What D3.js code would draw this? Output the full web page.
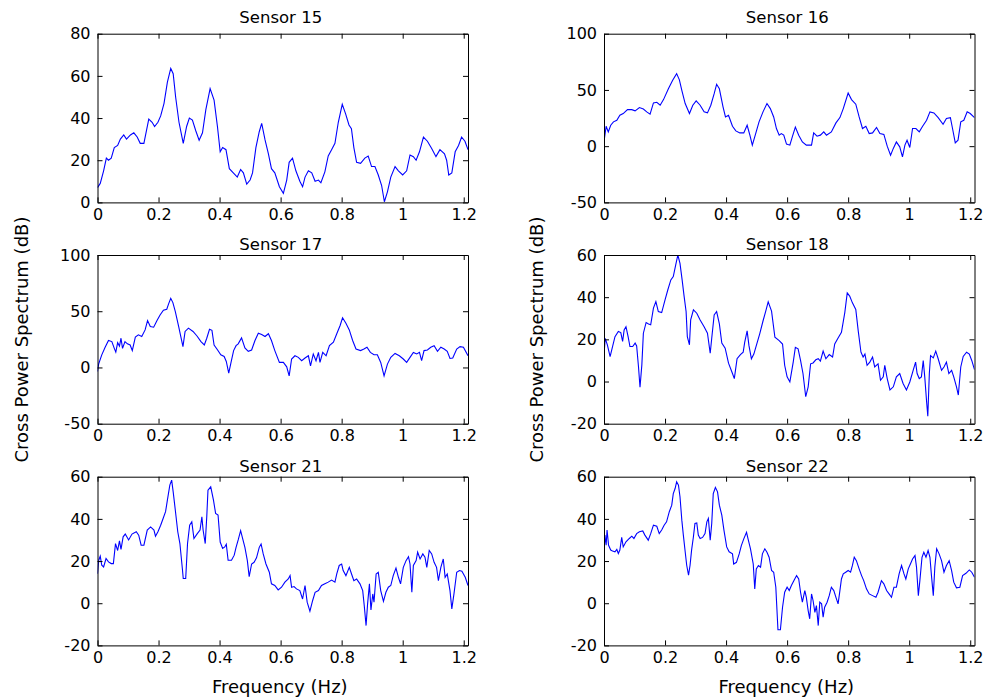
<!DOCTYPE html>
<html>
<head>
<meta charset="utf-8">
<script src="https://cdn.jsdelivr.net/npm/d3@7"></script>
<style>
  body { margin: 0; background: #fff; }
  text { font-family: "DejaVu Sans", sans-serif; fill: #000; }
</style>
</head>
<body>
<div id="vis-container"></div>
<script>
//data: [frequency (Hz), cross power (dB)]
const sensor15 = [[0,7],[0.009,9],[0.02,15],[0.029,21],[0.036,20],[0.045,21],[0.055,26],[0.066,27],[0.075,30],[0.086,32],[0.095,30],[0.108,32],[0.119,33],[0.13,31],[0.14,28],[0.152,28],[0.168,39.5],[0.179,38],[0.187,36],[0.198,38],[0.207,41],[0.218,47],[0.229,57],[0.24,63.5],[0.248,61],[0.256,50],[0.267,38],[0.281,28],[0.292,36],[0.301,40],[0.311,39],[0.322,34],[0.333,29.5],[0.344,33],[0.355,44],[0.369,54],[0.382,48.5],[0.393,36],[0.402,24],[0.41,26],[0.421,25],[0.432,16],[0.445,14],[0.458,12],[0.469,15.6],[0.478,14],[0.489,8.7],[0.5,10.6],[0.508,14],[0.519,26],[0.53,33.5],[0.538,37.5],[0.549,29.6],[0.56,23],[0.57,16],[0.581,14],[0.596,7.4],[0.609,4.3],[0.62,10.6],[0.628,19],[0.639,21],[0.65,15],[0.663,10],[0.672,7.4],[0.68,12],[0.691,15],[0.702,14],[0.713,10],[0.724,10.6],[0.732,9.3],[0.745,14.5],[0.756,22],[0.767,25],[0.778,28],[0.789,38],[0.802,46.5],[0.813,42],[0.824,36.7],[0.832,35],[0.84,26],[0.849,19],[0.862,18.5],[0.876,21],[0.887,22],[0.898,17],[0.909,17],[0.92,13],[0.931,8],[0.94,0.3],[0.95,5],[0.961,12],[0.975,17],[0.986,15],[1.0,13],[1.013,15],[1.024,22.5],[1.035,21.7],[1.044,20],[1.055,24],[1.068,31],[1.081,29],[1.095,25.6],[1.109,21.7],[1.122,25],[1.137,23],[1.144,20],[1.151,13],[1.161,14],[1.172,24],[1.183,27],[1.193,31],[1.204,29],[1.214,25]];

const sensor16 = [[0,4],[0.007,17.7],[0.014,12.7],[0.022,18.6],[0.031,21.6],[0.042,23],[0.052,27.5],[0.063,29],[0.077,32.5],[0.091,32.5],[0.102,31.4],[0.116,34.3],[0.129,33],[0.14,30.5],[0.151,28.4],[0.162,38.5],[0.173,39],[0.184,36.4],[0.195,41.4],[0.211,51],[0.225,58.6],[0.238,64.5],[0.247,59],[0.255,49.7],[0.266,37.9],[0.28,29],[0.291,36.4],[0.302,40.2],[0.315,36.4],[0.328,30.5],[0.339,29.6],[0.35,36.4],[0.361,46.7],[0.369,55],[0.378,51],[0.39,35],[0.398,26],[0.408,27.5],[0.421,17.7],[0.432,13.6],[0.445,11.8],[0.458,11.8],[0.469,18.6],[0.478,9.8],[0.486,0.9],[0.497,11.2],[0.508,21.6],[0.521,30.5],[0.534,37.9],[0.545,33.4],[0.556,26],[0.565,15.7],[0.574,9.8],[0.581,11.2],[0.589,9.8],[0.598,1.8],[0.609,0.9],[0.617,8.3],[0.627,17],[0.638,9.8],[0.65,3.8],[0.663,0.9],[0.68,0.9],[0.687,11.8],[0.698,8.9],[0.709,9.8],[0.72,12.7],[0.729,9.8],[0.745,12.7],[0.76,20.7],[0.773,25.4],[0.784,33.4],[0.8,47.3],[0.811,41.4],[0.825,37.3],[0.836,26],[0.847,15.7],[0.858,17.7],[0.869,11.2],[0.88,11.8],[0.893,16.6],[0.904,11.2],[0.917,10.4],[0.928,0],[0.939,-8],[0.948,-2],[0.958,3.8],[0.969,-0.6],[0.978,-9.5],[0.986,0.9],[0.993,5.3],[1.002,-1.2],[1.011,15.7],[1.022,15.7],[1.033,12.7],[1.044,17.7],[1.057,23],[1.068,30.5],[1.081,29.6],[1.095,25.4],[1.111,19.5],[1.122,24.6],[1.135,25.4],[1.142,15.7],[1.151,3],[1.16,5.3],[1.169,21.6],[1.179,23],[1.19,30.5],[1.2,29],[1.214,25.4]];

const sensor17 = [[0,-3.6],[0.004,3.3],[0.014,11.2],[0.025,18],[0.036,24],[0.047,23],[0.055,17],[0.06,13.6],[0.066,22],[0.072,19],[0.077,26],[0.082,17],[0.09,23],[0.098,21],[0.107,20],[0.114,15],[0.124,27],[0.134,29],[0.145,27.5],[0.156,33.4],[0.164,41.7],[0.173,36.4],[0.184,35.8],[0.195,41.7],[0.205,46.7],[0.216,51],[0.227,51.8],[0.233,56.5],[0.24,61.5],[0.247,57.7],[0.255,49.7],[0.266,36.4],[0.273,27.5],[0.28,18.6],[0.287,32],[0.298,35],[0.313,32],[0.326,28],[0.339,23],[0.35,20],[0.358,26],[0.367,34],[0.375,33],[0.382,20],[0.393,15.7],[0.404,11.2],[0.415,9.8],[0.422,5.3],[0.43,-5],[0.437,3.8],[0.446,15],[0.454,19.4],[0.461,21],[0.472,26.3],[0.483,17.3],[0.494,14.3],[0.505,15.5],[0.516,24],[0.527,30.4],[0.538,29.3],[0.549,27.5],[0.56,30],[0.57,24],[0.581,15],[0.596,4.5],[0.609,4.5],[0.62,0.6],[0.628,-7.5],[0.636,7.5],[0.647,10.4],[0.658,9],[0.669,6],[0.68,8.4],[0.691,10.4],[0.698,1.5],[0.707,12],[0.716,6],[0.724,13.4],[0.729,4.5],[0.738,13.4],[0.749,10.4],[0.76,19.4],[0.773,22.4],[0.784,30],[0.795,37.3],[0.803,44.2],[0.814,39.4],[0.825,33.4],[0.836,24],[0.847,16.4],[0.862,15],[0.873,16.4],[0.883,18],[0.894,13.4],[0.906,11.3],[0.917,11.3],[0.928,4.5],[0.939,-7.5],[0.95,3],[0.961,9],[0.975,12.5],[0.989,10.4],[1.002,7.5],[1.013,4.5],[1.024,9],[1.035,13.4],[1.046,12],[1.055,13.4],[1.062,6],[1.07,15],[1.081,15.5],[1.092,18],[1.103,19.4],[1.114,14.3],[1.125,18],[1.136,16.4],[1.146,14.3],[1.155,8],[1.164,8.4],[1.177,16.4],[1.188,18.5],[1.199,18],[1.214,10.4]];

const sensor18 = [[0,12.6],[0.004,20.5],[0.011,17.4],[0.02,11.8],[0.028,16.6],[0.036,21.3],[0.047,23.7],[0.055,23.2],[0.061,19],[0.066,24.5],[0.072,26],[0.079,21.3],[0.085,16.6],[0.094,16.6],[0.102,18.2],[0.107,16.9],[0.113,7],[0.118,-2.7],[0.124,7.9],[0.129,22.9],[0.138,28],[0.146,27.3],[0.153,26.9],[0.162,34.8],[0.17,37.9],[0.178,33.2],[0.189,32.7],[0.2,38.7],[0.209,43.4],[0.219,48.2],[0.227,49.8],[0.235,55.3],[0.242,60],[0.249,56],[0.256,48.2],[0.262,41],[0.269,33.2],[0.273,21.3],[0.28,17.4],[0.284,29.2],[0.293,34],[0.304,32.4],[0.315,29.2],[0.328,26],[0.339,22.9],[0.348,13.4],[0.353,20.5],[0.361,31.6],[0.369,33.2],[0.378,27.3],[0.386,18.2],[0.397,15.8],[0.408,8.7],[0.421,3.8],[0.427,1.4],[0.436,10.8],[0.447,12.8],[0.456,13.9],[0.461,18.6],[0.469,24],[0.475,17],[0.483,10.8],[0.491,13],[0.499,17],[0.51,22.5],[0.521,28.7],[0.53,33.4],[0.538,37.8],[0.549,33.4],[0.56,21],[0.574,19.4],[0.585,17.8],[0.592,7.7],[0.6,2.2],[0.609,-0.2],[0.62,9.2],[0.627,16.2],[0.636,15.5],[0.644,10],[0.652,3.8],[0.661,-7.2],[0.669,-2.5],[0.677,8.4],[0.685,8.8],[0.694,10.3],[0.702,10.8],[0.709,9.7],[0.718,14.4],[0.727,10.8],[0.738,12.8],[0.749,11.6],[0.756,17.8],[0.767,20.6],[0.778,23.3],[0.789,32.7],[0.797,42],[0.805,40.5],[0.814,37.3],[0.825,34.2],[0.833,24],[0.842,13.9],[0.849,11.6],[0.855,13],[0.862,7.7],[0.871,9.2],[0.88,11.6],[0.887,6.9],[0.898,8.4],[0.906,0.6],[0.915,2.2],[0.92,7.7],[0.928,1.4],[0.937,-4],[0.948,-2.5],[0.958,2.2],[0.969,3.8],[0.98,-0.9],[0.991,-4],[1.002,-0.2],[1.013,5.3],[1.021,9.2],[1.026,3.8],[1.033,1.4],[1.04,2.2],[1.046,10],[1.051,2.2],[1.057,-9.5],[1.061,-16.5],[1.066,3.8],[1.07,12.3],[1.079,11.2],[1.087,14.4],[1.095,10.8],[1.106,5.3],[1.114,6.9],[1.122,9.2],[1.13,3.8],[1.139,5.3],[1.146,2.2],[1.155,-2.5],[1.161,-6.4],[1.169,6.9],[1.177,11.9],[1.188,13.9],[1.197,13],[1.205,10],[1.214,5.6]];

const sensor21 = [[0,14],[0.004,20.4],[0.009,22.3],[0.014,18],[0.02,17.2],[0.028,21.2],[0.036,19.6],[0.045,18.8],[0.052,18.8],[0.059,28.3],[0.066,25],[0.072,29.6],[0.077,25.5],[0.084,31.5],[0.091,32.8],[0.102,30],[0.113,32.8],[0.127,33.9],[0.135,32.3],[0.143,27.5],[0.152,27.5],[0.163,34.7],[0.174,36.2],[0.185,34.7],[0.19,31.8],[0.198,33.9],[0.207,37],[0.215,40.2],[0.223,43.4],[0.229,48.9],[0.237,56],[0.243,58.4],[0.248,52.8],[0.255,44.1],[0.263,33.9],[0.27,28.3],[0.278,16.5],[0.281,11.7],[0.289,11.7],[0.295,28.3],[0.302,37],[0.309,38.6],[0.316,30.7],[0.327,33],[0.336,34.7],[0.342,41],[0.346,34.7],[0.353,28.3],[0.358,41],[0.362,53.6],[0.371,55.2],[0.38,48.9],[0.387,42.6],[0.395,41.8],[0.402,29],[0.41,26],[0.417,26.7],[0.422,28],[0.428,20.4],[0.439,20.4],[0.448,22.8],[0.454,26.5],[0.461,30],[0.469,34.4],[0.475,31],[0.483,26.5],[0.491,20.2],[0.497,12.6],[0.505,18.6],[0.513,19.4],[0.521,21.5],[0.53,26.5],[0.536,28.1],[0.543,23.4],[0.552,18.6],[0.563,14.7],[0.57,9.2],[0.581,8.4],[0.592,6.3],[0.603,7.6],[0.614,10],[0.625,11.5],[0.631,13.1],[0.636,7.6],[0.644,7.9],[0.652,6.8],[0.663,6],[0.672,2],[0.68,8.4],[0.687,0.5],[0.696,-3.8],[0.705,1.3],[0.713,5.2],[0.724,6],[0.734,8.4],[0.745,9.2],[0.756,10],[0.767,11],[0.778,10],[0.784,13.9],[0.792,17.9],[0.8,18.6],[0.805,15.5],[0.814,13.1],[0.825,17],[0.833,13.6],[0.84,10.7],[0.849,11.5],[0.86,9.2],[0.869,6],[0.874,-1.1],[0.88,-10.6],[0.885,-0.3],[0.891,9.2],[0.896,-3.2],[0.902,4.4],[0.906,0.5],[0.913,13.9],[0.92,14.7],[0.928,6],[0.937,0.9],[0.945,5.2],[0.953,7.6],[0.961,8.4],[0.969,13.1],[0.978,16.7],[0.986,12.3],[0.993,9.2],[1.002,17],[1.011,20.2],[1.019,22.1],[1.024,18.6],[1.03,5.2],[1.035,17.9],[1.044,20.2],[1.049,24.2],[1.057,21],[1.066,23.4],[1.073,21.8],[1.079,17],[1.087,25],[1.095,23.4],[1.103,19.4],[1.111,17],[1.117,10.7],[1.125,17],[1.133,21],[1.139,12.3],[1.146,13.9],[1.155,6],[1.161,-2.7],[1.168,4.4],[1.177,14.7],[1.186,15.5],[1.194,15.2],[1.205,12.3],[1.214,8.4]];

const sensor22 = [[0,23.6],[0.003,32.3],[0.007,27.5],[0.01,34.7],[0.015,27.5],[0.022,25.2],[0.028,24.8],[0.036,24.4],[0.042,25.5],[0.047,23.6],[0.052,25.2],[0.058,31.2],[0.063,26.7],[0.072,29.1],[0.083,30.7],[0.091,31.8],[0.098,30.7],[0.107,33],[0.116,33.9],[0.127,34.3],[0.134,32.3],[0.145,29.9],[0.153,33],[0.162,37],[0.173,36.5],[0.181,33],[0.189,34.7],[0.197,37],[0.205,38.6],[0.214,43.4],[0.222,46.5],[0.227,52],[0.233,54.4],[0.238,57.6],[0.244,56],[0.249,50.5],[0.255,39.4],[0.26,32.3],[0.266,24.4],[0.271,18],[0.277,13.3],[0.282,18],[0.287,25.2],[0.293,31.5],[0.298,37.8],[0.304,38.1],[0.309,32.3],[0.315,30.7],[0.323,31.2],[0.331,33],[0.337,38.6],[0.342,40.2],[0.348,29.9],[0.353,37.8],[0.358,52],[0.365,54.9],[0.372,52.8],[0.378,46.5],[0.386,41.8],[0.393,34.7],[0.402,26.7],[0.41,24.4],[0.421,23.4],[0.425,18.6],[0.434,19.4],[0.443,23.4],[0.45,27.3],[0.458,30.5],[0.467,33.6],[0.472,30.5],[0.48,25.8],[0.489,18.6],[0.494,6.8],[0.499,16.3],[0.506,17.9],[0.513,17.1],[0.519,23.4],[0.527,25.8],[0.534,24.2],[0.541,21.8],[0.549,15.5],[0.556,14.7],[0.563,7.6],[0.57,-12.6],[0.578,-12.6],[0.585,-1.9],[0.592,5.2],[0.6,7.6],[0.607,6],[0.614,8.4],[0.622,10.7],[0.631,13.1],[0.638,11.5],[0.644,5.2],[0.65,0.5],[0.658,6],[0.663,2.8],[0.669,-3.5],[0.674,-7.4],[0.68,4.4],[0.685,1.3],[0.691,-4.3],[0.696,-1.1],[0.702,-10.6],[0.707,0.5],[0.713,-0.3],[0.718,-6.6],[0.723,-1.9],[0.731,0.5],[0.738,3.6],[0.745,7.6],[0.753,6],[0.76,2.8],[0.767,-0.3],[0.773,6],[0.778,11.5],[0.784,13.9],[0.792,14.7],[0.8,15.5],[0.808,14.7],[0.814,17.9],[0.82,21.8],[0.827,20.2],[0.836,16.3],[0.844,13.1],[0.851,10.7],[0.86,6.8],[0.869,4.4],[0.88,3.6],[0.891,2.8],[0.898,5.2],[0.909,10.7],[0.917,9.2],[0.926,6],[0.934,4.4],[0.942,2.8],[0.95,7.6],[0.958,7.6],[0.967,13.9],[0.975,17.9],[0.983,13.9],[0.989,11.5],[0.997,16.3],[1.004,18.6],[1.011,21],[1.019,22.6],[1.024,17.1],[1.03,3.6],[1.035,10.7],[1.042,21.8],[1.048,24.2],[1.055,21.8],[1.062,25],[1.068,21.8],[1.073,13.1],[1.079,3.6],[1.084,17.1],[1.09,25.8],[1.098,23.4],[1.106,20.2],[1.114,14.7],[1.122,17.9],[1.131,20.2],[1.139,15.5],[1.146,10],[1.155,7.3],[1.166,7.6],[1.175,13.1],[1.186,14.2],[1.197,15.8],[1.205,14.7],[1.214,12.3]];

const titles = ["Sensor 15", "Sensor 16", "Sensor 17", "Sensor 18", "Sensor 21", "Sensor 22"];
const series = [sensor15, sensor16, sensor17, sensor18, sensor21, sensor22];
const xTicks = [0, 0.2, 0.4, 0.6, 0.8, 1, 1.2];
const xMax = 1.214;
const yDomains = [[0, 80], [-50, 100], [-50, 100], [-20, 60], [-20, 60], [-20, 60]];
const yTicks = [
  [0, 20, 40, 60, 80],
  [-50, 0, 50, 100],
  [-50, 0, 50, 100],
  [-20, 0, 20, 40, 60],
  [-20, 0, 20, 40, 60],
  [-20, 0, 20, 40, 60]
];

//layout
let colX = [97.5, 604];
let rowY = [33.7, 255, 476.7];
let width = 370.5;
let height = 168.7;
let tick = 5;

let svg = d3.select("#vis-container")
  .append("svg")
  .attr("width", 984)
  .attr("height", 700);

let x = d3.scaleLinear().domain([0, xMax]).range([0, width]);

series.forEach((data, i) => {
  let col = i % 2, row = Math.floor(i / 2);
  let g = svg.append("g")
    .attr("transform", `translate(${colX[col]}, ${rowY[row]})`);

  let y = d3.scaleLinear().domain(yDomains[i]).range([height, 0]);

  g.append("clipPath")
    .attr("id", "clip" + i)
    .append("rect")
    .attr("width", width)
    .attr("height", height);

  //the blue trace
  let line = d3.line()
    .x(d => x(d[0]))
    .y(d => y(d[1]));

  g.append("path")
    .datum(data)
    .attr("clip-path", `url(#clip${i})`)
    .attr("fill", "none")
    .attr("stroke", "#0000ff")
    .attr("stroke-width", 1.1)
    .attr("d", line);

  //axes, ticks pointing inwards like matlab
  g.append("g")
    .attr("transform", `translate(0,${height})`)
    .call(d3.axisBottom(x).tickValues(xTicks).tickSizeInner(-tick).tickSizeOuter(0).tickPadding(6).tickFormat(d => String(d)));
  g.append("g")
    .call(d3.axisTop(x).tickValues(xTicks).tickSizeInner(-tick).tickSizeOuter(0).tickFormat(""));
  g.append("g")
    .call(d3.axisLeft(y).tickValues(yTicks[i]).tickSizeInner(-tick).tickSizeOuter(0).tickPadding(7).tickFormat(d => String(d)));
  g.append("g")
    .attr("transform", `translate(${width},0)`)
    .call(d3.axisRight(y).tickValues(yTicks[i]).tickSizeInner(-tick).tickSizeOuter(0).tickFormat(""));

  g.selectAll(".domain, .tick line").attr("stroke", "#000").attr("stroke-width", 1);
  g.selectAll(".tick text")
    .attr("font-family", "DejaVu Sans, sans-serif")
    .attr("font-size", "16px")
    .attr("fill", "#000");

  //title
  g.append("text")
    .attr("x", width / 2 - 2)
    .attr("y", row == 0 ? -11 : -5)
    .attr("text-anchor", "middle")
    .attr("font-size", "16.5px")
    .text(titles[i]);
});

//shared labels
colX.forEach((cx, k) => {
  svg.append("text")
    .attr("x", cx + width / 2 - 3)
    .attr("y", rowY[2] + height + 48)
    .attr("text-anchor", "middle")
    .attr("font-size", "18px")
    .text("Frequency (Hz)");

  svg.append("text")
    .attr("transform", `translate(${k == 0 ? 28 : 543}, ${(rowY[0] + rowY[2] + height) / 2}) rotate(-90)`)
    .attr("text-anchor", "middle")
    .attr("font-size", "18px")
    .text("Cross Power Spectrum (dB)");
});
</script>
</body>
</html>
